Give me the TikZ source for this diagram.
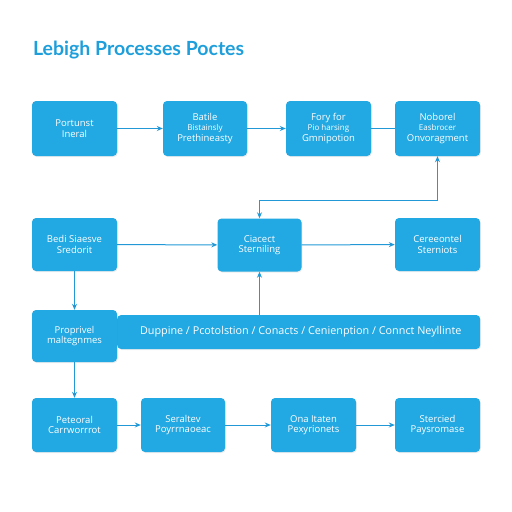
\documentclass[tikz,border=0pt]{standalone}
\usepackage{fontspec}
\setmainfont{Open Sans}
\newfontfamily\titlefont{Lato}
\usetikzlibrary{positioning,arrows.meta,shadows}
\definecolor{boxblue}{HTML}{22A8E2}
\definecolor{lineblue}{HTML}{2299D6}
\definecolor{titleblue}{HTML}{1E9FDB}
\newcommand{\boxfont}{\fontsize{9.5}{10.5}\selectfont}
\newcommand{\midfont}{\fontsize{8}{9.5}\selectfont}

\begin{document}
\begin{tikzpicture}[x=1pt,y=-1pt,
    procbox/.style={fill=boxblue,rounded corners=4pt,minimum width=85pt,minimum height=55pt,
      text=white,align=center,font=\boxfont,inner sep=2pt,
      drop shadow={shadow xshift=0.8pt,shadow yshift=-1pt,opacity=0.15}},
    flow/.style={draw=lineblue,line width=1pt,-{Stealth[length=6pt,width=5pt]}}]
  \useasboundingbox (0,0) rectangle (512,512);
  \node[anchor=west,text=titleblue,font=\titlefont\fontsize{19.5}{22}\bfseries\selectfont] (title) at (29.5,50) {Lebigh Processes Poctes};
  % first row
  \node[procbox] (portunst) at (74.5,128.5) {Portunst\\Ineral};
  \node[procbox,minimum width=84pt] (batile) at (205,128.5) {Batile\\{\midfont Bistainsly}\\Prethineasty};
  \node[procbox] (fory) at (328.5,128.5) {Fory for\\{\midfont Pio harsing}\\Gmnipotion};
  \node[procbox] (noborel) at (437.5,128.5) {Noborel\\{\midfont Easbrocer}\\Onvoragment};
  % second row
  \node[procbox,minimum height=53pt] (bedi) at (74.5,244.5) {Bedi Siaesve\\Sredorit};
  \node[procbox,minimum width=84pt,minimum height=53pt] (ciacect) at (259.5,245) {Ciacect\\Sterniling};
  \node[procbox,minimum height=53pt] (cereeontel) at (437.5,244.5) {Cereeontel\\Sterniots};
  % bar with the proprivel box on top
  \node[procbox,minimum width=363pt,minimum height=34pt,anchor=west,font=\fontsize{10.8}{12}\selectfont] (bar) at (117,332) {\hspace*{4pt}Duppine / Pcotolstion / Conacts / Cenienption / Connct Neyllinte};
  \node[procbox,minimum height=52pt] (proprivel) at (74.5,336) {Proprivel\\maltegnmes};
  % last row
  \node[procbox,minimum height=54pt] (peteoral) at (74.5,425) {Peteoral\\Carrworrrot};
  \node[procbox,minimum width=84pt,minimum height=54pt] (seraltev) at (183,425) {Seraltev\\Poyrrnaoeac};
  \node[procbox,minimum height=54pt] (onaitaten) at (313.5,425) {Ona Itaten\\Pexyrionets};
  \node[procbox,minimum height=54pt] (stercied) at (437.5,425) {Stercied\\Paysromase};
  % connectors
  \draw[flow] (portunst) -- (batile);
  \draw[flow] (batile) -- (fory);
  \draw[draw=lineblue,line width=1pt] (fory) -- (noborel);
  \coordinate (turn) at (0,200);
  \draw[flow,{Stealth[length=6pt,width=5pt]}-{Stealth[length=6pt,width=5pt]}] (noborel.south) -- (noborel.south |- turn) -| (ciacect.north);
  \draw[flow] (bedi) -- (ciacect);
  \draw[flow] (ciacect) -- (cereeontel);
  \draw[flow] (bedi) -- (proprivel);
  \draw[flow] (bar.north -| ciacect.south) -- (ciacect.south);
  \draw[flow] (proprivel) -- (peteoral);
  \draw[flow] (peteoral) -- (seraltev);
  \draw[flow] (seraltev) -- (onaitaten);
  \draw[flow] (onaitaten) -- (stercied);
\end{tikzpicture}
\end{document}
